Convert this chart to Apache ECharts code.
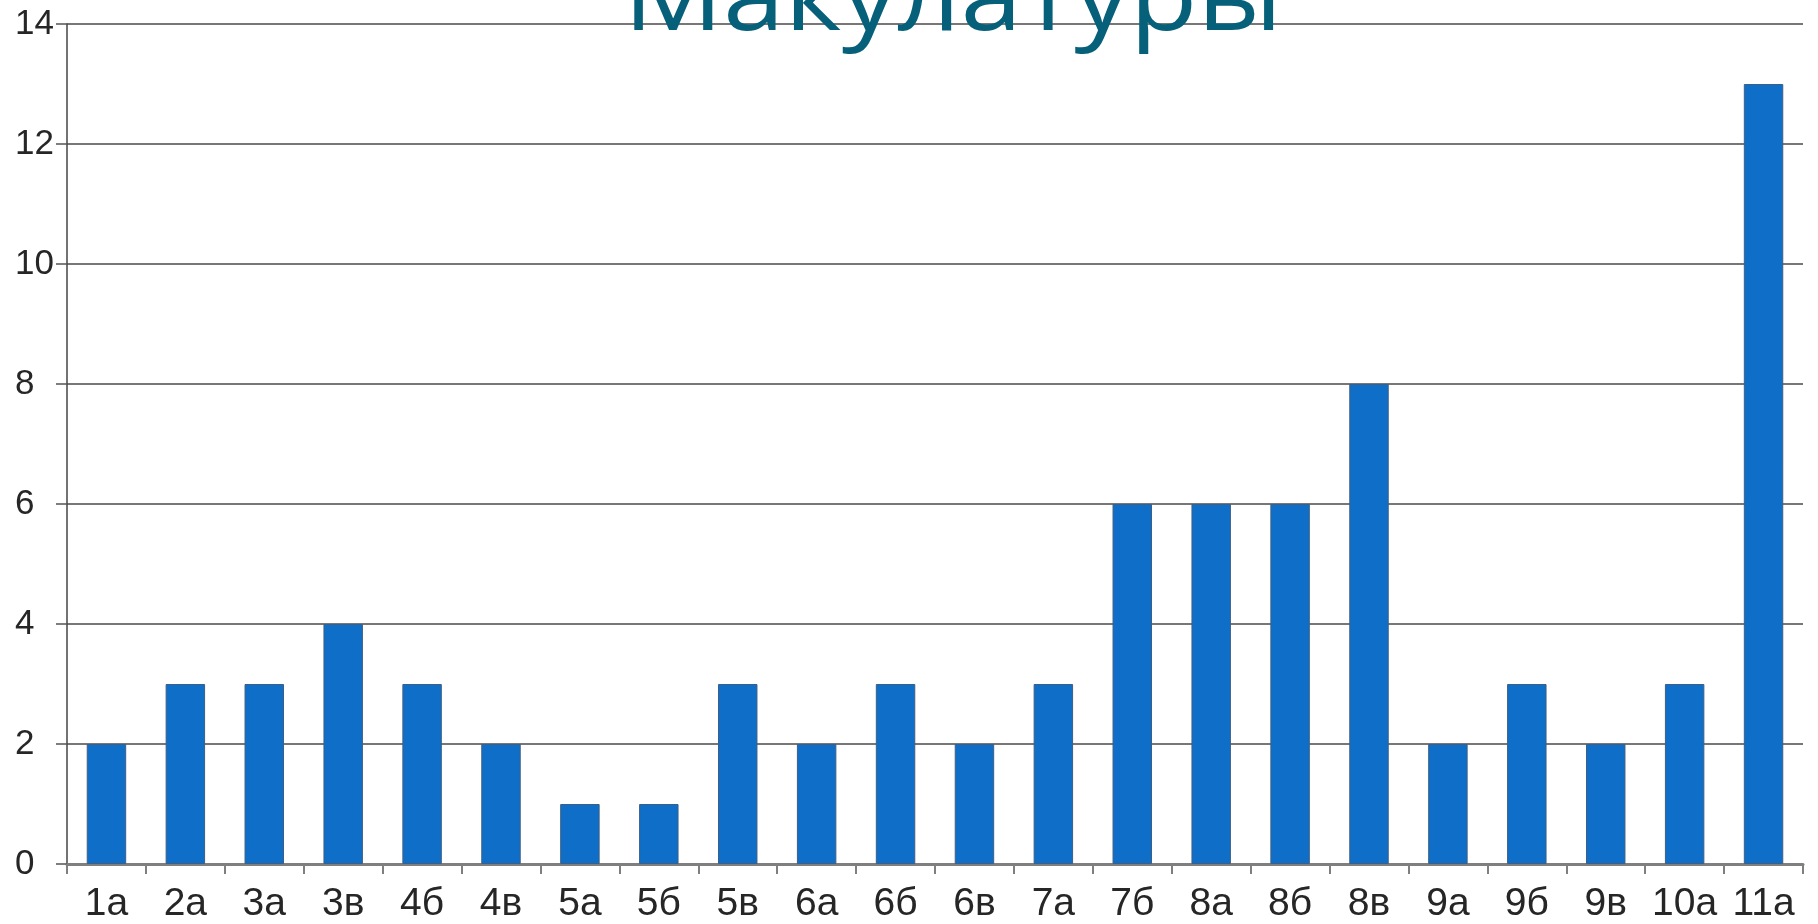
<!DOCTYPE html>
<html>
<head>
<meta charset="utf-8">
<script src="https://cdn.jsdelivr.net/npm/echarts@6/dist/echarts.min.js"></script>
<style>
html,body{margin:0;padding:0;background:#ffffff;}
#chart{width:1818px;height:924px;}
</style>
</head>
<body>
<div id="chart"></div>
<script>
const titleText = 'Макулатуры';
const categories = ['1а','2а','3а','3в','4б','4в','5а','5б','5в','6а','6б','6в','7а','7б','8а','8б','8в','9а','9б','9в','10а','11а'];
const values = [2,3,3,4,3,2,1,1,3,2,3,2,3,6,6,6,8,2,3,2,3,13];
const yTicks = [0,2,4,6,8,10,12,14];

const chart = echarts.init(document.getElementById('chart'), null, {renderer:'canvas'});
chart.setOption({
  backgroundColor: '#ffffff',
  animation: false,
  grid: {left: 67, right: 15, top: 24, bottom: 59, containLabel: false},
  graphic: [{
    type: 'text',
    x: 953, y: 2, z: 100,
    scaleX: 1.13,
    style: {
      text: titleText,
      font: '98px "Open Sans"',
      fill: '#06607a',
      align: 'center',
      verticalAlign: 'middle'
    }
  }],
  xAxis: {
    type: 'category',
    data: categories,
    axisLine: {lineStyle: {color: '#7f7f7f', width: 3}},
    axisTick: {show: true, alignWithLabel: false, length: 10, lineStyle: {color: '#7f7f7f', width: 2}},
    axisLabel: {interval: 0, color: '#262626', fontFamily: 'Liberation Sans', fontSize: 39, margin: 21}
  },
  yAxis: {
    type: 'value',
    min: yTicks[0], max: yTicks[yTicks.length-1], interval: 2,
    axisLine: {show: true, lineStyle: {color: '#444444', width: 1.5}},
    axisTick: {show: true, length: 11, lineStyle: {color: '#555555', width: 1.5}},
    axisLabel: {color: '#262626', fontFamily: 'Liberation Sans', fontSize: 35, margin: 52, align: 'left'},
    splitLine: {show: true, lineStyle: {color: '#777777', width: 2}}
  },
  series: [{
    type: 'bar',
    data: values,
    barWidth: '50%',
    itemStyle: {color: '#0f6fc8', borderColor: '#3d5f85', borderWidth: 1}
  }]
});
</script>
</body>
</html>
